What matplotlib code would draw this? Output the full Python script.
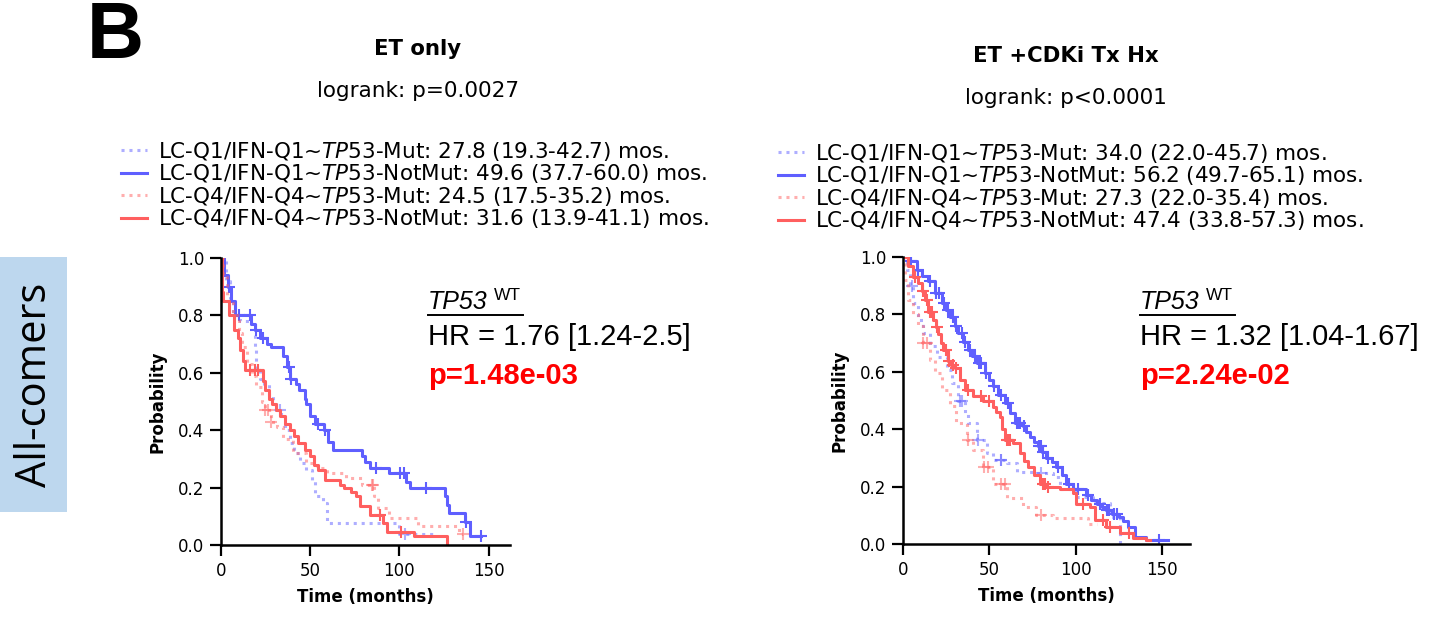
import numpy as np
import matplotlib
matplotlib.use("Agg")
import matplotlib.pyplot as plt
from matplotlib.patches import Rectangle
from matplotlib.lines import Line2D

plt.rcParams['font.family'] = 'DejaVu Sans'
plt.rcParams['mathtext.fontset'] = 'custom'
plt.rcParams['mathtext.rm'] = 'DejaVu Sans'
plt.rcParams['mathtext.it'] = 'DejaVu Sans:italic'

W, H = 1452, 625

# ---- data ----
# left panel: ET only
L_q1_mut_t = [0, 3, 5, 7, 11, 17.5, 19, 20, 22, 24, 27, 29.5, 31, 34, 36, 38.8, 41, 44.4, 48, 51, 52.8, 57.5, 59.3, 100, 119]
L_q1_mut_s = [1.0, 0.92, 0.86, 0.80, 0.78, 0.755, 0.69, 0.61, 0.58, 0.56, 0.52, 0.49, 0.47, 0.45, 0.40, 0.355, 0.32, 0.285, 0.26, 0.227, 0.17, 0.145, 0.075, 0.04, 0.04]
L_q1_mut_c = [33, 103]

L_q1_wt_t = [0, 2, 4, 6, 8, 17, 19, 22, 26, 28, 35, 37, 39, 42, 44, 47, 48, 50, 53, 58, 60, 63, 79, 81, 83.5, 94, 104, 106, 125.5, 127, 128, 137, 139.5, 146]
L_q1_wt_s = [1.0, 0.94, 0.90, 0.85, 0.80, 0.77, 0.75, 0.72, 0.70, 0.69, 0.66, 0.62, 0.58, 0.56, 0.54, 0.51, 0.49, 0.45, 0.42, 0.40, 0.36, 0.33, 0.31, 0.29, 0.27, 0.25, 0.22, 0.20, 0.17, 0.14, 0.11, 0.08, 0.03, 0.03]
L_q1_wt_c = [4.5, 10.5, 16.5, 20, 23.5, 38, 39.5, 54.7, 58.4, 87, 100.5, 102.5, 115, 137.5, 146]

L_q4_mut_t = [0, 1.5, 3.4, 7, 10, 11.8, 14.5, 17.4, 20, 23, 25, 28, 31.3, 35, 40.7, 48, 53.7, 59.3, 70, 79, 86, 88, 94, 110.5, 133.5, 135.5]
L_q4_mut_s = [1.0, 0.94, 0.85, 0.80, 0.74, 0.69, 0.63, 0.59, 0.55, 0.50, 0.47, 0.43, 0.41, 0.37, 0.32, 0.285, 0.27, 0.25, 0.235, 0.21, 0.17, 0.13, 0.095, 0.067, 0.04, 0.04]
L_q4_mut_c = [25, 26.5, 28, 84.5, 85.5, 135.5]

L_q4_wt_t = [0, 1, 1.5, 4.5, 7.5, 9.5, 11, 12.5, 13.5, 23.5, 25, 27, 28.5, 31, 33, 36, 39, 41, 43.5, 47, 50, 52, 54.7, 58.4, 67, 69, 73, 76, 78, 83.6, 91, 93, 108, 127]
L_q4_wt_s = [1.0, 0.88, 0.85, 0.80, 0.75, 0.72, 0.68, 0.64, 0.61, 0.57, 0.54, 0.51, 0.49, 0.47, 0.45, 0.42, 0.40, 0.38, 0.355, 0.33, 0.31, 0.28, 0.26, 0.227, 0.21, 0.20, 0.185, 0.17, 0.135, 0.105, 0.075, 0.047, 0.03, 0.0]
L_q4_wt_c = [16.4, 19.2, 21, 89, 101]

# right panel: ET +CDKi Tx Hx
R_q1_mut_t = [0, 2.3, 4.2, 6.2, 9, 12, 15.8, 19.6, 25.4, 28.3, 32, 36, 37.9, 42.7, 48.5, 52.3, 60, 65.8, 75.4, 87, 90.8, 100.4, 110, 119.6, 125.4]
R_q1_mut_s = [1.0, 0.956, 0.90, 0.84, 0.78, 0.735, 0.69, 0.653, 0.607, 0.56, 0.50, 0.456, 0.42, 0.363, 0.316, 0.293, 0.281, 0.252, 0.247, 0.235, 0.19, 0.165, 0.142, 0.095, 0.0]
R_q1_mut_c = [5.5, 33, 34, 43.4, 56.7, 57, 80]

R_q1_wt_t = [0, 4, 8, 11, 14.8, 18.7, 22.5, 25, 27.3, 30, 32, 35, 37.9, 40, 42.7, 47.5, 50, 52.3, 55, 59, 62, 64.8, 69.6, 71.5, 73.5, 76, 78.3, 80.5, 83, 86, 88.8, 92, 94.6, 98.5, 106, 109, 112, 115, 117.7, 121, 125, 127.5, 130, 134, 140.8, 153]
R_q1_wt_s = [1.0, 0.985, 0.956, 0.935, 0.915, 0.874, 0.84, 0.815, 0.79, 0.76, 0.735, 0.705, 0.677, 0.655, 0.63, 0.595, 0.57, 0.55, 0.52, 0.49, 0.455, 0.42, 0.41, 0.39, 0.374, 0.355, 0.34, 0.32, 0.30, 0.285, 0.27, 0.24, 0.21, 0.19, 0.17, 0.155, 0.14, 0.13, 0.12, 0.105, 0.095, 0.08, 0.06, 0.026, 0.014, 0.014]
R_q1_wt_c = [5, 9, 16, 19, 21, 24, 26, 29, 31, 34, 36, 39, 42, 44, 45, 48, 53, 57, 61, 66, 67, 68, 70, 79, 80, 81, 84, 90, 96, 99, 101, 107, 114, 118, 119, 122, 124, 148]

R_q4_mut_t = [0, 1.3, 3.3, 6.2, 9, 12, 15.8, 18.7, 22.5, 27.3, 31, 37, 40.8, 46.5, 52.3, 60, 69.6, 77.3, 87, 107, 112]
R_q4_mut_s = [1.0, 0.92, 0.85, 0.80, 0.76, 0.70, 0.64, 0.595, 0.537, 0.48, 0.42, 0.363, 0.328, 0.27, 0.21, 0.16, 0.13, 0.10, 0.09, 0.07, 0.07]
R_q4_mut_c = [12, 14, 37.6, 47, 49, 57, 59, 80]

R_q4_wt_t = [0, 3.3, 6.2, 9, 11, 12.9, 14.8, 17.7, 19, 20.6, 22, 23.5, 26.3, 28, 30.2, 33, 36, 40.8, 46.5, 52.3, 54, 56, 57.5, 59, 63.8, 67.7, 70, 72.5, 76, 79.2, 83, 90.8, 98.5, 100.4, 108, 111, 117.7, 125.4, 133, 140.8, 143]
R_q4_wt_s = [1.0, 0.967, 0.93, 0.91, 0.88, 0.85, 0.81, 0.78, 0.755, 0.73, 0.70, 0.677, 0.636, 0.625, 0.613, 0.572, 0.537, 0.514, 0.497, 0.479, 0.46, 0.444, 0.40, 0.363, 0.351, 0.316, 0.29, 0.27, 0.24, 0.21, 0.20, 0.19, 0.177, 0.14, 0.13, 0.084, 0.06, 0.037, 0.02, 0.014, 0.014]
R_q4_wt_c = [7, 12, 14, 16, 17, 20, 25, 27, 29, 31, 38, 45, 50, 60, 61, 62, 81, 82, 84, 104, 116, 120, 131]

L_labels = ["LC-Q1/IFN-Q1~$\\it{TP}$53-Mut: 27.8 (19.3-42.7) mos.",
            "LC-Q1/IFN-Q1~$\\it{TP}$53-NotMut: 49.6 (37.7-60.0) mos.",
            "LC-Q4/IFN-Q4~$\\it{TP}$53-Mut: 24.5 (17.5-35.2) mos.",
            "LC-Q4/IFN-Q4~$\\it{TP}$53-NotMut: 31.6 (13.9-41.1) mos."]
R_labels = ["LC-Q1/IFN-Q1~$\\it{TP}$53-Mut: 34.0 (22.0-45.7) mos.",
            "LC-Q1/IFN-Q1~$\\it{TP}$53-NotMut: 56.2 (49.7-65.1) mos.",
            "LC-Q4/IFN-Q4~$\\it{TP}$53-Mut: 27.3 (22.0-35.4) mos.",
            "LC-Q4/IFN-Q4~$\\it{TP}$53-NotMut: 47.4 (33.8-57.3) mos."]

BLUE = '#5f5fff'
RED = '#ff5f5f'


def fx(px):
    return px / W


def fy(py):
    return 1 - py / H


def km(ax, t, s, cens, color, dotted, label):
    t = np.asarray(t, float)
    s = np.asarray(s, float)
    ls = (0, (1, 1.6)) if dotted else '-'
    a = 0.5 if dotted else 1.0
    line, = ax.step(t, s, where='post', color=color, lw=2.2, ls=ls, alpha=a, label=label)
    c = np.asarray(cens, float)
    cy = s[np.clip(np.searchsorted(t, c, side='right') - 1, 0, len(s) - 1)]
    ax.plot(c, cy, ls='none', marker='+', ms=9, mew=1.5, color=color, alpha=a)
    return line


def panel(ax, curves, labels, xmax, title, logrank, leg_xy, title_x, title_y, hr, pval, ann_x):
    handles = []
    for (t, s, c, col, dot), lab in zip(curves, labels):
        handles.append(km(ax, t, s, c, col, dot, lab))
    ax.set_xlim(0, xmax)
    ax.set_ylim(0, 1.0)
    ax.set_xticks([0, 50, 100, 150])
    ax.set_yticks([0, 0.2, 0.4, 0.6, 0.8, 1.0])
    ax.spines['top'].set_visible(False)
    ax.spines['right'].set_visible(False)
    for sp in ['left', 'bottom']:
        ax.spines[sp].set_linewidth(1.8)
    ax.tick_params(width=1.6, length=8, pad=4, labelsize=12)
    ax.set_xlabel('Time (months)', fontweight='bold', fontsize=12, labelpad=6)
    ax.set_ylabel('Probability', fontweight='bold', fontsize=12, labelpad=8)
    fig.legend(handles=handles, loc='upper left', bbox_to_anchor=(fx(leg_xy[0]), fy(leg_xy[1])),
               bbox_transform=fig.transFigure, frameon=False, fontsize=15.5,
               handlelength=1.2, handletextpad=0.55, labelspacing=-0.02, borderpad=0)
    fig.text(fx(title_x), fy(title_y), title, ha='center', va='center', fontweight='bold', fontsize=15.3)
    fig.text(fx(title_x), fy(title_y + 42), logrank, ha='center', va='center', fontsize=15.5)
    # annotation
    fig.text(fx(ann_x), fy(309), 'TP53', fontstyle='italic', fontsize=18,
             family='Liberation Sans', ha='left', va='baseline')
    fig.text(fx(ann_x + 66), fy(300), 'WT', fontsize=12.5, family='Liberation Sans', ha='left', va='baseline')
    fig.lines.append(Line2D([fx(ann_x), fx(ann_x + 95)], [fy(315), fy(315)], color='black', lw=1.4,
                            transform=fig.transFigure))
    fig.text(fx(ann_x), fy(337), hr, fontsize=21, family='Liberation Sans', ha='left', va='center')
    fig.text(fx(ann_x), fy(376), pval, fontsize=21, family='Liberation Sans', fontweight='bold',
             color='red', ha='left', va='center')


fig = plt.figure(figsize=(W / 100, H / 100), dpi=100)

ax1 = fig.add_axes([fx(220.7), fy(545), fx(510 - 220.7), (545 - 258) / H])
ax2 = fig.add_axes([fx(902.7), fy(544), fx(1190 - 902.7), (544 - 257) / H])

panel(ax1,
      [(L_q1_mut_t, L_q1_mut_s, L_q1_mut_c, BLUE, True),
       (L_q1_wt_t, L_q1_wt_s, L_q1_wt_c, BLUE, False),
       (L_q4_mut_t, L_q4_mut_s, L_q4_mut_c, RED, True),
       (L_q4_wt_t, L_q4_wt_s, L_q4_wt_c, RED, False)],
      L_labels, 162, 'ET only', 'logrank: p=0.0027', (110, 129), 418, 49,
      'HR = 1.76 [1.24-2.5]', 'p=1.48e-03', 428)

panel(ax2,
      [(R_q1_mut_t, R_q1_mut_s, R_q1_mut_c, BLUE, True),
       (R_q1_wt_t, R_q1_wt_s, R_q1_wt_c, BLUE, False),
       (R_q4_mut_t, R_q4_mut_s, R_q4_mut_c, RED, True),
       (R_q4_wt_t, R_q4_wt_s, R_q4_wt_c, RED, False)],
      R_labels, 166, 'ET +CDKi Tx Hx', 'logrank: p<0.0001', (767, 131), 1066, 56,
      'HR = 1.32 [1.04-1.67]', 'p=2.24e-02', 1140)

# panel letter and row label
fig.text(fx(87), fy(38), 'B', fontsize=57, fontweight='bold', family='Liberation Sans',
         ha='left', va='center')
fig.patches.append(Rectangle((0, fy(512)), fx(67), (512 - 257) / H, transform=fig.transFigure,
                             facecolor='#bdd7ee', edgecolor='none', zorder=0))
fig.text(fx(35), fy(385), 'All-comers', rotation=90, fontsize=30, family='Open Sans',
         ha='center', va='center')

fig.savefig('out.png', dpi=100)
